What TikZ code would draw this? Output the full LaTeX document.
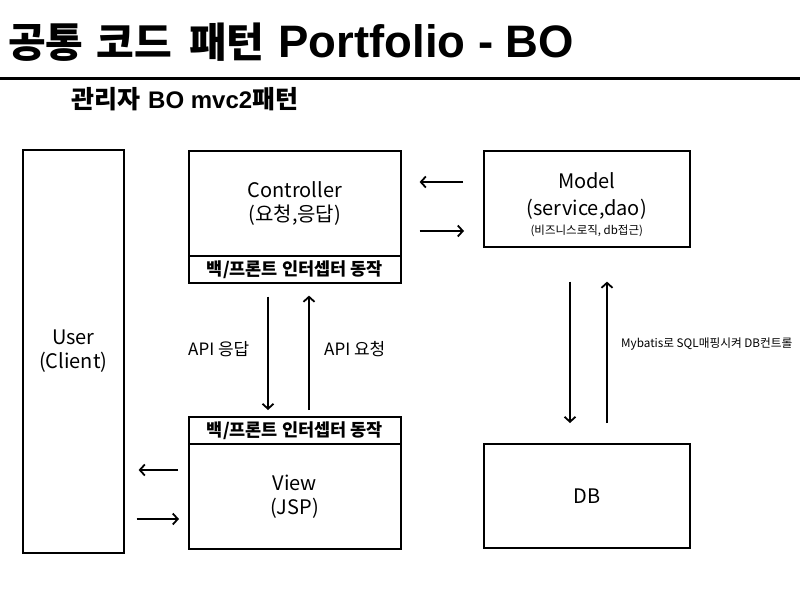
\documentclass[tikz,border=0pt]{standalone}
\usepackage{fontspec}
\setmainfont{Noto Sans CJK KR}
\newfontfamily\arialfont{Liberation Sans}
\usetikzlibrary{arrows.meta}
\begin{document}
\begin{tikzpicture}[x=1pt,y=-1pt,
  box/.style={draw, line width=1.6pt, rectangle, inner sep=0pt, anchor=north west, align=center, font=\fontsize{20}{24}\selectfont},
  bar/.style={box, font=\bfseries\fontsize{17.5}{19}\selectfont},
  arr/.style={line width=1.8pt, -{Straight Barb[length=5pt,width=11pt,line width=1.8pt]}},
  lbl/.style={font=\fontsize{17}{19}\selectfont, inner sep=0pt}
]
\useasboundingbox (0,0) rectangle (800,600);
\fill[white] (0,0) rectangle (800,600);

% title and rule
\node[anchor=base west, inner sep=0pt] (title) at (8,57)
  {{\bfseries\fontsize{41}{44}\selectfont 공통\hspace{13pt}코드\hspace{17pt}패턴}\hspace{14pt}{\arialfont\bfseries\fontsize{45.5}{48}\selectfont Portfolio - BO}};
\draw[line width=3pt] (0,78) -- (800,78);
\node[anchor=base west, inner sep=0pt] (sub) at (71,108)
  {{\bfseries\fontsize{25}{26}\selectfont 관리자}\hspace{8pt}{\arialfont\bfseries\fontsize{24}{26}\selectfont BO mvc2}{\bfseries\fontsize{25}{26}\selectfont 패턴}};

% boxes
\node[box, minimum width=101pt, minimum height=403pt] (user) at (22,149) {User\\(Client)};
\node[box, minimum width=212pt, minimum height=105pt] (ctrl) at (188,150) {Controller\\(요청,응답)};
\node[bar, minimum width=212pt, minimum height=27pt] (ctrlbar) at (188,255) {백/프론트 인터셉터 동작};
\node[box, minimum width=206pt, minimum height=96pt] (model) at (483,150) {};
\node[align=center, inner sep=0pt, font=\fontsize{20}{24}\selectfont, yshift=-6pt] (modeltxt) at (model.center)
  {Model\\[3pt](service,dao)\\[-5pt]{\fontsize{11.5}{13}\selectfont (비즈니스로직, db접근)}};
\node[bar, minimum width=212pt, minimum height=27pt] (viewbar) at (188,416) {백/프론트 인터셉터 동작};
\node[box, minimum width=212pt, minimum height=105pt] (view) at (188,443) {View\\(JSP)};
\node[box, minimum width=206pt, minimum height=104pt] (db) at (483,443) {DB};

% controller <-> model
\draw[arr, shorten <=20pt, shorten >=18pt] (model.west |- 0,182) -- (ctrl.east |- 0,182);
\draw[arr, shorten <=18pt, shorten >=19pt] (ctrl.east |- 0,231) -- (model.west |- 0,231);

% API arrows
\draw[arr, shorten <=13pt, shorten >=6pt] (ctrlbar.south -| 268,0) -- (viewbar.north -| 268,0);
\draw[arr, shorten <=6pt, shorten >=12pt] (viewbar.north -| 309,0) -- (ctrlbar.south -| 309,0);
\node[lbl, anchor=west] (api1) at (188,349) {API 응답};
\node[lbl, anchor=west] (api2) at (324,349) {API 요청};

% model <-> db
\draw[arr, shorten <=34pt, shorten >=20pt] (model.south -| 570,0) -- (db.north -| 570,0);
\draw[arr, shorten <=20pt, shorten >=34pt] (db.north -| 607,0) -- (model.south -| 607,0);
\node[font=\fontsize{11.7}{13}\selectfont, anchor=west, inner sep=0pt] (mybatis) at (621,344) {Mybatis로 SQL매핑시켜 DB컨트롤};

% user <-> view
\draw[arr, shorten <=10pt, shorten >=14pt] (view.west |- 0,470) -- (user.east |- 0,470);
\draw[arr, shorten <=12pt, shorten >=9pt] (user.east |- 0,519) -- (view.west |- 0,519);
\end{tikzpicture}
\end{document}
